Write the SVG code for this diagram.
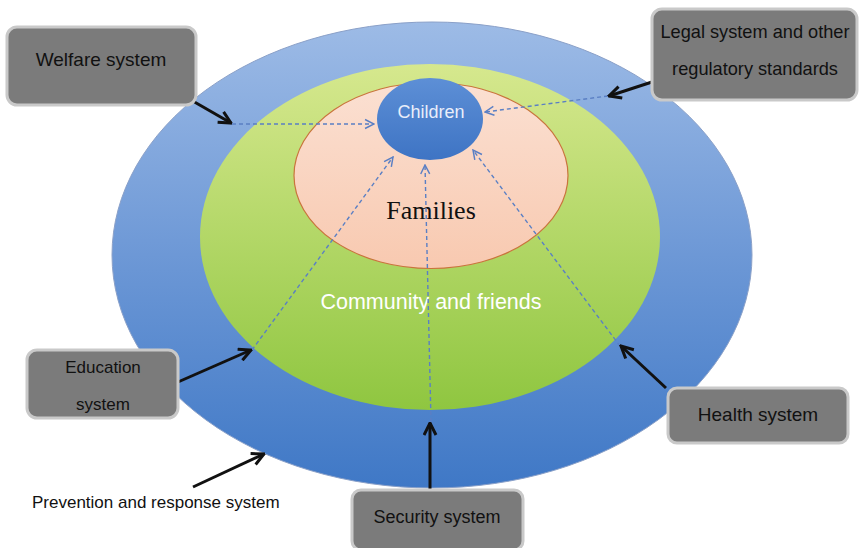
<svg xmlns="http://www.w3.org/2000/svg" width="860" height="548" viewBox="0 0 860 548">
<defs>
<linearGradient id="gOuter" x1="0" y1="0" x2="0" y2="1">
<stop offset="0" stop-color="#9dbbe6"/><stop offset="0.5" stop-color="#6d98d6"/><stop offset="1" stop-color="#3f78c6"/>
</linearGradient>
<linearGradient id="gGreen" x1="0" y1="0" x2="0" y2="1">
<stop offset="0" stop-color="#d6e88e"/><stop offset="1" stop-color="#8fc640"/>
</linearGradient>
<linearGradient id="gPeach" x1="0" y1="0" x2="0" y2="1">
<stop offset="0" stop-color="#fbe0d2"/><stop offset="1" stop-color="#f8c9b0"/>
</linearGradient>
<linearGradient id="gChild" x1="0" y1="0" x2="0" y2="1">
<stop offset="0" stop-color="#5d8fd6"/><stop offset="1" stop-color="#3e74c4"/>
</linearGradient>
<marker id="blk" viewBox="0 0 10 10" refX="9" refY="5" markerWidth="5" markerHeight="5" orient="auto" markerUnits="strokeWidth">
<path d="M1,1 L9,5 L1,9" fill="none" stroke="#111" stroke-width="2"/>
</marker>
<marker id="blu" viewBox="0 0 10 10" refX="9" refY="5" markerWidth="8" markerHeight="8" orient="auto" markerUnits="strokeWidth">
<path d="M1,1 L9,5 L1,9" fill="none" stroke="#5a7fc4" stroke-width="1.3"/>
</marker>
</defs>
<style>
.box{fill:#7b7b7b;stroke:#c9c9c9;stroke-width:3}
.lbl{font-family:"Liberation Sans",Arial,sans-serif;fill:#111;text-anchor:middle}
.blk{stroke:#111;stroke-width:3;fill:none;marker-end:url(#blk)}
.dsh{stroke:#5a7fc4;stroke-width:1.4;stroke-dasharray:4 3;fill:none;marker-end:url(#blu)}
</style>
<rect width="860" height="548" fill="#fff"/>
<g id="prevention">
<ellipse cx="432" cy="255" rx="320" ry="233" fill="url(#gOuter)" stroke="#8aa0c8" stroke-width="1"/>
</g>
<g id="community">
<ellipse cx="430" cy="237" rx="230" ry="173" fill="url(#gGreen)"/>
<text x="431" y="309" font-family="Liberation Sans,Arial,sans-serif" font-size="21.5" fill="#fff" text-anchor="middle">Community and friends</text>
</g>
<g id="families">
<ellipse cx="431" cy="175.500" rx="137" ry="93" fill="url(#gPeach)" stroke="#c9743c" stroke-width="1.2"/>
<text x="431" y="219" font-family="Liberation Serif,Times New Roman,serif" font-size="26" fill="#111" text-anchor="middle">Families</text>
</g>
<g id="children">
<ellipse cx="430" cy="119" rx="53" ry="41" fill="url(#gChild)"/>
<text x="431" y="118" font-family="Liberation Sans,Arial,sans-serif" font-size="18" fill="#e8eefa" text-anchor="middle">Children</text>
</g>
<g id="connectors">
<path class="dsh" d="M232,124 L374,124"/>
<path class="dsh" d="M608,96 L485,112"/>
<path class="dsh" d="M252,350 L393,157"/>
<path class="dsh" d="M431,422 L425,165"/>
<path class="dsh" d="M620,346 L473,150"/>
<path class="blk" d="M191,100 L231,123"/>
<path class="blk" d="M652,82 L609,96"/>
<path class="blk" d="M178,382 L251,350"/>
<path class="blk" d="M193,487 L264,454"/>
<path class="blk" d="M666,388 L621,346"/>
<path class="blk" d="M430,490 L430,423"/>
</g>
<g id="welfare">
<rect class="box" x="7" y="27" width="189" height="78" rx="10"/>
<text class="lbl" x="101" y="66" font-size="19">Welfare system</text>
</g>
<g id="legal">
<rect class="box" x="652" y="9" width="205" height="91" rx="10"/>
<text class="lbl" x="755" y="38" font-size="18.2">Legal system and other</text>
<text class="lbl" x="755" y="75" font-size="18.2">regulatory standards</text>
</g>
<g id="education">
<rect class="box" x="27" y="350" width="151" height="68" rx="10"/>
<text class="lbl" x="103" y="373" font-size="17">Education</text>
<text class="lbl" x="103" y="410" font-size="17">system</text>
</g>
<g id="health">
<rect class="box" x="668" y="388" width="180" height="55" rx="9"/>
<text class="lbl" x="758" y="421" font-size="19">Health system</text>
</g>
<g id="security">
<rect class="box" x="352" y="490" width="171" height="60" rx="9"/>
<text class="lbl" x="437" y="523" font-size="18">Security system</text>
</g>
<g id="prevention-label">
<text x="32" y="508" font-family="Liberation Sans,Arial,sans-serif" font-size="17" fill="#111">Prevention and response system</text>
</g>
</svg>
